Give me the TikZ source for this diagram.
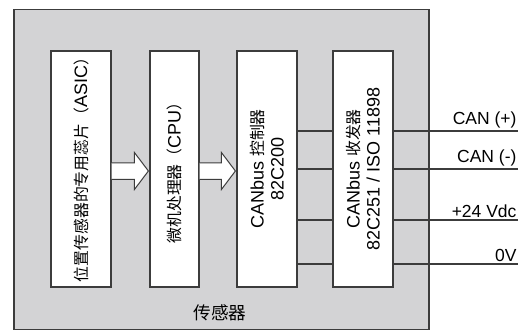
\documentclass[tikz,border=0pt]{standalone}
\usepackage{fontspec}
\usepackage{tikz}
\usetikzlibrary{calc}
\setmainfont{Liberation Sans}
\newfontfamily\cjk{Noto Sans CJK SC}[Scale=0.88]
\definecolor{sensorgray}{HTML}{D3D3D5}
\definecolor{linegray}{HTML}{3C3C3C}

\begin{document}
\begin{tikzpicture}[x=1pt, y=-1pt, font=\fontsize{18}{20}\selectfont,
  box/.style={draw=linegray, fill=white, line width=1.2pt, minimum height=236pt, inner sep=0pt},
  wire/.style={draw=linegray, line width=1.1pt},
  blockarrow/.style={draw=linegray, fill=white, line width=1pt, line join=miter}]
  \useasboundingbox (0,0) rectangle (529,331);
  % Sensor housing
  \node[draw=linegray, fill=sensorgray, line width=1.5pt, minimum width=415pt, minimum height=320pt, inner sep=0pt] (sensor) at (221.5,169.5) {};
  \node (sensorlabel) at (220,313) {\cjk\fontsize{20}{22}\selectfont 传感器};

  % Blocks
  \node[box, minimum width=60pt] (asic) at (81,169) {};
  \node[box, minimum width=49pt] (cpu) at (174.5,169) {};
  \node[box, minimum width=60pt] (ctrl) at (267,169) {};
  \node[box, minimum width=60pt] (trx) at (363,169) {};

  \node[rotate=90] (asictext) at ([yshift=3pt]asic) {{\cjk 位置传感器的专用蕊片（}ASIC{\cjk ）}};
  \node[rotate=90] (cputext) at (cpu) {{\cjk 微机处理器（}CPU{\cjk ）}};
  \node[rotate=90, align=center] (ctrltext) at (ctrl) {CANbus {\cjk 控制器}\\82C200};
  \node[rotate=90, align=center] (trxtext) at (trx) {CANbus {\cjk 收发器}\\82C251 / ISO 11898};

  % Block arrows
  \foreach \a/\b in {asic/cpu, cpu/ctrl}
    \draw[blockarrow] ($(\a.east)+(0,-6.25)$) -- ($(\b.west)+(-15,-6.25)$) -- ($(\b.west)+(-15,-16.5)$)
      -- ($(\b.west)+(-1,2)$) -- ($(\b.west)+(-15,20.5)$) -- ($(\b.west)+(-15,10.25)$) -- ($(\a.east)+(0,10.25)$);

  % Bus lines
  \foreach \yy/\lab [count=\i] in {131/CAN (+), 169/CAN (-), 220/+24 Vdc, 264/0V} {
    \coordinate (bus\i) at (518,\yy);
    \draw[wire] (ctrl.east |- bus\i) -- (trx.west |- bus\i);
    \draw[wire] (trx.east |- bus\i) -- (bus\i)
      node[above left, inner xsep=1pt, inner ysep=2pt, font=\fontsize{17.5}{20}\selectfont] (lab\i) {\lab};
  }
\end{tikzpicture}
\end{document}
